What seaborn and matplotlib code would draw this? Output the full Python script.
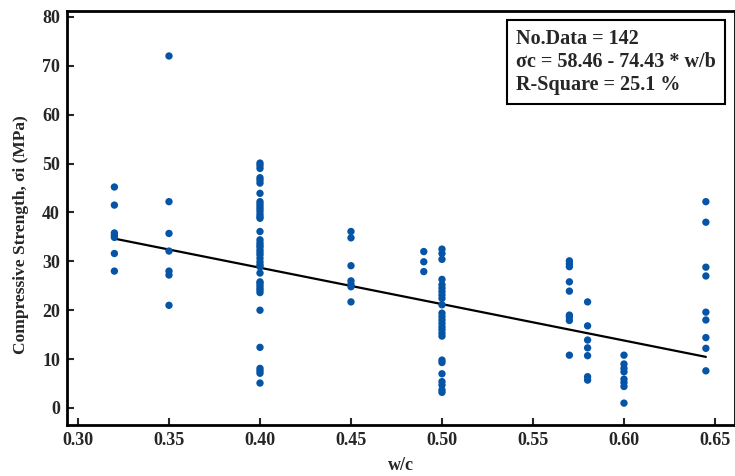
import numpy as np
import pandas as pd
import matplotlib
matplotlib.use("Agg")
import matplotlib.pyplot as plt
import seaborn as sns

# strengths (MPa), grouped by w/c level
s_032 = [45.2, 41.5, 35.8, 35.3, 34.9, 31.6, 28.0]
s_035 = [72.0, 42.2, 35.7, 32.1, 28.0, 27.2, 21.0]
s_040 = [50.1, 49.6, 49.0, 47.1, 46.6, 46.0, 43.9, 42.2, 41.7, 41.2, 40.7,
         40.2, 39.6, 39.1, 38.8, 36.1, 34.4, 33.8, 33.3, 32.9, 32.3, 31.8,
         31.3, 30.6, 29.9, 29.3, 28.9, 27.6, 25.8, 25.5, 25.0, 24.5, 24.1,
         23.6, 20.0, 12.4, 8.1, 7.6, 7.1, 5.1]
s_045 = [36.1, 34.8, 29.1, 26.0, 25.3, 24.8, 21.7]
s_049 = [32.0, 29.9, 27.9]
s_050 = [32.5, 31.6, 30.4, 26.3, 25.2, 24.5, 23.8, 23.1, 22.4, 21.1, 19.4,
         18.7, 18.0, 17.3, 16.6, 16.0, 15.3, 14.7, 9.8, 9.3, 7.0, 5.4, 4.7,
         3.7, 3.2]
s_057 = [30.1, 29.5, 28.9, 25.8, 23.9, 19.0, 18.6, 17.9, 10.8]
s_058 = [21.7, 16.8, 13.9, 12.3, 10.7, 6.4, 5.7]
s_060 = [10.8, 9.0, 8.1, 7.4, 5.9, 5.2, 4.4, 1.0]
s_0645 = [42.2, 38.0, 28.8, 27.0, 19.6, 18.0, 14.4, 12.2, 7.6]

wc_levels = [0.32, 0.35, 0.40, 0.45, 0.49, 0.50, 0.57, 0.58, 0.60, 0.645]
groups = [s_032, s_035, s_040, s_045, s_049, s_050, s_057, s_058, s_060, s_0645]

intercept = 58.46
slope = -74.43
x_ticks = [0.30, 0.35, 0.40, 0.45, 0.50, 0.55, 0.60, 0.65]
y_ticks = [0, 10, 20, 30, 40, 50, 60, 70, 80]

df = pd.concat([pd.DataFrame({"wc": w, "strength": s}) for w, s in zip(wc_levels, groups)],
               ignore_index=True)
fit = pd.DataFrame({"wc": [df.wc.min(), df.wc.max()]})
fit["strength"] = intercept + slope * fit.wc

sns.set_style("ticks")
plt.rcParams["font.family"] = ["Liberation Serif", "DejaVu Serif"]
plt.rcParams["font.weight"] = "bold"

fig = plt.figure(figsize=(7.35, 4.76), dpi=100)
ax = fig.add_axes([67 / 735, 1 - 425 / 476, 1 - 67 / 735, (425 - 11) / 476])

sns.scatterplot(data=df, x="wc", y="strength", color="#0554a6", s=28,
                edgecolor="none", ax=ax, zorder=3)
sns.lineplot(data=fit, x="wc", y="strength", color="black", lw=1.6, ax=ax, zorder=2)

ax.set_xlim(0.29396, 0.6610)
ax.set_ylim(-3.48, 81.2)
ax.set_xticks(x_ticks)
ax.set_xticklabels([f"{v:.2f}" for v in x_ticks])
ax.set_yticks(y_ticks)
ax.tick_params(direction="in", length=5, width=1.5, labelsize=13, pad=5)
for lbl in ax.get_xticklabels() + ax.get_yticklabels():
    lbl.set_fontweight("bold")
for side in ["left", "bottom", "top", "right"]:
    ax.spines[side].set_linewidth(2)
    ax.spines[side].set_color("black")

ax.set_xlabel("w/c", fontsize=13, fontweight="bold", labelpad=6)
ax.set_ylabel("Compressive Strength, σi (MPa)", fontsize=12.5, fontweight="bold")
ax.yaxis.set_label_coords(-0.057, 0.46)

ax.text(0.672, 0.957,
        "No.Data = 142\nσc = 58.46 - 74.43 * w/b\nR-Square = 25.1 %",
        transform=ax.transAxes, ha="left", va="top", fontsize=14.5,
        fontweight="bold", linespacing=1.2,
        bbox=dict(boxstyle="square,pad=0.45", facecolor="white", edgecolor="black", lw=1.5))

fig.savefig("out.png", dpi=100)
